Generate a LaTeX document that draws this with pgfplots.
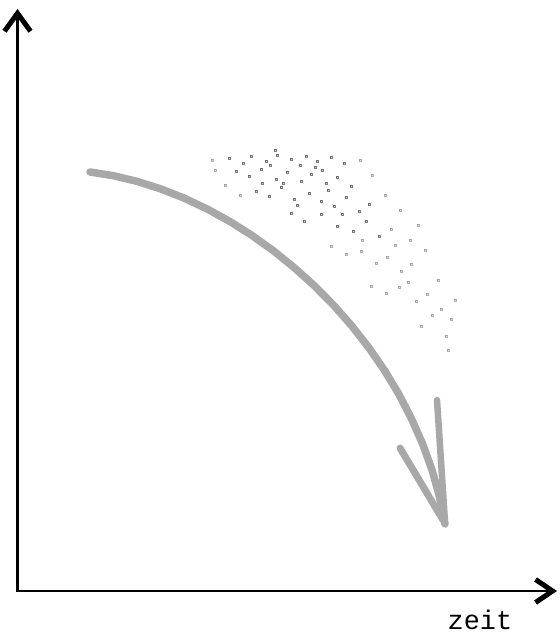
\documentclass[border=0pt]{standalone}
\usepackage{fontspec}
\setmonofont{Liberation Mono}
\usepackage{pgfplots}
\pgfplotsset{compat=1.18}
\usetikzlibrary{arrows.meta}
\definecolor{chalk}{RGB}{168,168,168}
\begin{document}
\begin{tikzpicture}
\begin{axis}[name=ax,
  width=560bp, height=636bp, scale only axis,
  xmin=0, xmax=560, ymin=0, ymax=636, y dir=reverse,
  hide axis, clip=false]
% speckled area (denser part)
\addplot[only marks, mark=square*, mark size=1.0bp, draw=none, fill=chalk, opacity=0.5] coordinates {
(229,158)(243,163)(251,156)(266,161)(277,155)(291,159)(306,156)(317,161)(331,157)(344,163)
(236,171)(249,176)(261,169)(276,179)(287,172)(301,181)(311,174)(326,183)(337,177)(351,186)
(256,191)(269,196)(281,187)(294,199)(309,193)(321,201)(334,206)(346,197)(359,211)(369,204)
(291,213)(304,221)(321,214)(337,226)(353,231)(366,221)(379,236)
(270,165)(283,183)(315,167)(328,190)(297,205)(342,214)(275,150)(300,165)(322,170)(262,183)
};
% speckled area (sparse, lighter part)
\addplot[only marks, mark=square*, mark size=0.9bp, draw=none, fill=chalk, opacity=0.3] coordinates {
(391,229)(331,246)(346,254)(361,251)(376,263)(387,257)(401,271)(411,264)
(371,286)(386,293)(399,287)(416,301)(427,294)(441,309)(451,319)(421,326)(446,336)
(362,240)(395,245)(408,282)(432,315)(438,280)(455,300)(425,250)(410,240)(448,350)
(215,170)(225,185)(240,195)(212,160)(360,160)(372,175)(385,195)(400,210)(418,225)
};
% axes
\addplot[line width=2.6bp, black, -{Straight Barb[length=18bp,width=26bp,line width=5bp]}]
  coordinates {(17.5,592) (17.5,9)};
\addplot[line width=2.6bp, black, -{Straight Barb[length=17bp,width=23bp,line width=5bp]}]
  coordinates {(16,591) (557,591)};
% curved arrow
\addplot[chalk, line width=7.5bp, line cap=round, line join=round] coordinates {
(90,172)(113.4,175.7)(136.8,181.3)(160.2,188.7)(183.6,197.9)(206.6,208.7)(229.4,221.2)
(251.6,235.2)(273.3,250.7)(294.2,267.6)(314.4,285.8)(333.6,305.2)(351.7,325.8)(368.7,347.5)
(384.4,370.2)(398.7,393.9)(411.4,418.5)(422.6,443.8)(432.0,469.9)(439.5,496.7)(445,524)};
\addplot[chalk, line width=7bp, line cap=round] coordinates {(400,448)(443,520)};
\addplot[chalk, line width=6.5bp, line cap=round] coordinates {(437,400)(445,522)};
\node[font=\ttfamily\fontsize{27}{27}\selectfont, anchor=base] at (axis cs:480,629) {zeit};
\end{axis}
\pgfresetboundingbox
\path (ax.south west) rectangle (ax.north east);
\end{tikzpicture}
\end{document}
